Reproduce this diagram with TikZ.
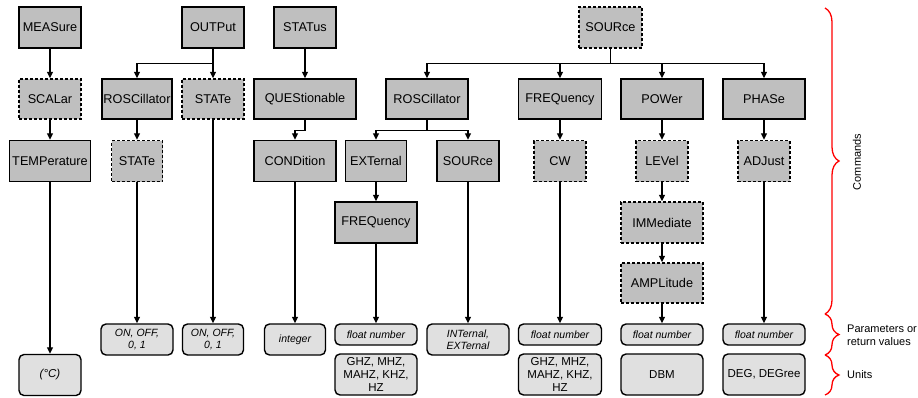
\documentclass[tikz,border=0pt]{standalone}
\usepackage{fontspec}
\setmainfont{Liberation Sans}
\usetikzlibrary{positioning,arrows.meta,decorations.pathreplacing}
\tikzset{
  cmd/.style={rectangle,draw=black,fill=black!25,line width=1.4pt,inner sep=0pt,
    minimum height=41pt,align=center,font=\fontsize{12.7}{14}\selectfont},
  optcmd/.style={cmd,dash pattern=on 3pt off 2pt},
  param/.style={rectangle,draw=black,fill=black!12,line width=1.4pt,rounded corners=5pt,
    inner sep=0pt,align=center,font=\fontsize{10.5}{11.5}\selectfont\itshape},
  unit/.style={param,minimum height=41pt,font=\fontsize{11.5}{13}\selectfont},
  ptr/.style={-{Triangle[length=6.5pt,width=6pt]},line width=1.3pt},
  bracedeco/.style={decorate,decoration={brace,amplitude=14pt},draw=red,line width=1.3pt},
  sidelbl/.style={inner sep=0pt,align=left,font=\fontsize{11}{13}\selectfont},
}

\begin{document}
\begin{tikzpicture}[x=1pt,y=-1pt]
  \useasboundingbox (0,0) rectangle (918,397);
  \node[cmd,minimum width=62pt] (meas) at (50,27.5) {MEASure};
  \node[cmd,minimum width=62pt] (outp) at (213,27.5) {OUTPut};
  \node[cmd,minimum width=62pt] (stat) at (305,27.5) {STATus};
  \node[optcmd,minimum width=63pt] (src) at (610.5,27.5) {SOURce};

  \node[optcmd,minimum width=62pt,minimum height=40pt] (scal) at (50,99) {SCALar};
  \node[cmd,minimum width=70pt,minimum height=40pt] (rosca) at (137,99) {ROSCillator};
  \node[optcmd,minimum width=62pt,minimum height=40pt] (outstate) at (213,99) {STATe};
  \node[cmd,minimum width=102pt,minimum height=40pt] (ques) at (305,99) {QUEStionable};
  \node[cmd,minimum width=82pt,minimum height=40pt] (roscb) at (427,99) {ROSCillator};
  \node[cmd,minimum width=83pt,minimum height=40pt] (freqa) at (560,99) {FREQuency};
  \node[cmd,minimum width=82pt,minimum height=40pt] (pow) at (662,99) {POWer};
  \node[cmd,minimum width=82pt,minimum height=40pt] (phas) at (764,99) {PHASe};

  \node[cmd,minimum width=81pt] (temp) at (50,161) {TEMPerature};
  \node[optcmd,minimum width=51pt] (roscstate) at (137,161) {STATe};
  \node[cmd,minimum width=82pt] (cond) at (295,161) {CONDition};
  \node[cmd,minimum width=61pt] (ext) at (376,161) {EXTernal};
  \node[cmd,minimum width=62pt] (srcb) at (468,161) {SOURce};
  \node[optcmd,minimum width=52pt] (cw) at (560,161) {CW};
  \node[optcmd,minimum width=52pt] (lev) at (662,161) {LEVel};
  \node[optcmd,minimum width=52pt] (adj) at (764,161) {ADJust};

  \node[cmd,minimum width=82pt] (freqb) at (376,222.5) {FREQuency};
  \node[optcmd,minimum width=82pt] (imm) at (662,222.5) {IMMediate};
  \node[optcmd,minimum width=82pt,minimum height=40pt] (amp) at (662,283) {AMPLitude};

  \node[param,minimum width=72pt,minimum height=31pt] (onoffa) at (137,339.5) {ON, OFF,\\0, 1};
  \node[param,minimum width=61pt,minimum height=31pt] (onoffb) at (213,339.5) {ON, OFF,\\0, 1};
  \node[param,minimum width=61pt,minimum height=31pt] (intg) at (295,339.5) {integer};
  \node[param,minimum width=82pt,minimum height=21pt] (flta) at (376,334.5) {float number};
  \node[param,minimum width=82pt,minimum height=31pt] (intext) at (468,339.5) {INTernal,\\EXTernal};
  \node[param,minimum width=83pt,minimum height=21pt] (fltb) at (560,334.5) {float number};
  \node[param,minimum width=82pt,minimum height=21pt] (fltc) at (662,334.5) {float number};
  \node[param,minimum width=82pt,minimum height=21pt] (fltd) at (764,334.5) {float number};

  \node[unit,minimum width=62pt,font=\fontsize{11.5}{13}\selectfont\itshape] (degc) at (50,375) {(°C)};
  \node[unit,minimum width=82pt] (hza) at (376,374.5) {GHZ, MHZ,\\MAHZ, KHZ,\\HZ};
  \node[unit,minimum width=83pt] (hzb) at (560,374.5) {GHZ, MHZ,\\MAHZ, KHZ,\\HZ};
  \node[unit,minimum width=82pt] (dbm) at (662,374.5) {DBM};
  \node[unit,minimum width=82pt] (deg) at (764,374.5) {DEG, DEGree};

  \draw[ptr] (meas.south) -- (scal.north);
  \draw[ptr] (scal.south) -- (temp.north);
  \draw[ptr] (temp.south) -- (degc.north);
  \draw[ptr] (outp.south) -- ++(0,15) -| (rosca.north);
  \draw[ptr] (outp.south) -- (outstate.north);
  \draw[ptr] (rosca.south) -- (roscstate.north);
  \draw[ptr] (roscstate.south) -- (onoffa.north);
  \draw[ptr] (outstate.south) -- (onoffb.north);
  \draw[ptr] (stat.south) -- (ques.north);
  \draw[ptr] (ques.south) -- ++(0,11) -| (cond.north);
  \draw[ptr] (cond.south) -- (intg.north);
  \foreach \n in {roscb,freqa,pow,phas}
    \draw[ptr] (src.south) -- ++(0,15) -| (\n.north);
  \draw[ptr] (roscb.south) -- ++(0,11) -| (ext.north);
  \draw[ptr] (roscb.south) -- ++(0,11) -| (srcb.north);
  \draw[ptr] (ext.south) -- (freqb.north);
  \draw[ptr] (freqb.south) -- (flta.north);
  \draw[ptr] (srcb.south) -- (intext.north);
  \draw[ptr] (freqa.south) -- (cw.north);
  \draw[ptr] (cw.south) -- (fltb.north);
  \draw[ptr] (pow.south) -- (lev.north);
  \draw[ptr] (lev.south) -- (imm.north);
  \draw[ptr] (imm.south) -- (amp.north);
  \draw[ptr] (amp.south) -- (fltc.north);
  \draw[ptr] (phas.south) -- (adj.north);
  \draw[ptr] (adj.south) -- (fltd.north);

  \draw[bracedeco] (825,8) -- (825,314);
  \draw[bracedeco] (825,314) -- (825,355);
  \draw[bracedeco] (825,355) -- (825,395);
  \node[sidelbl,rotate=90] (cmdlbl) at (857,162) {Commands};
  \node[sidelbl,anchor=west] (parlbl) at (847,335) {Parameters or\\return values};
  \node[sidelbl,anchor=west] (unitlbl) at (847,375) {Units};
\end{tikzpicture}
\end{document}
